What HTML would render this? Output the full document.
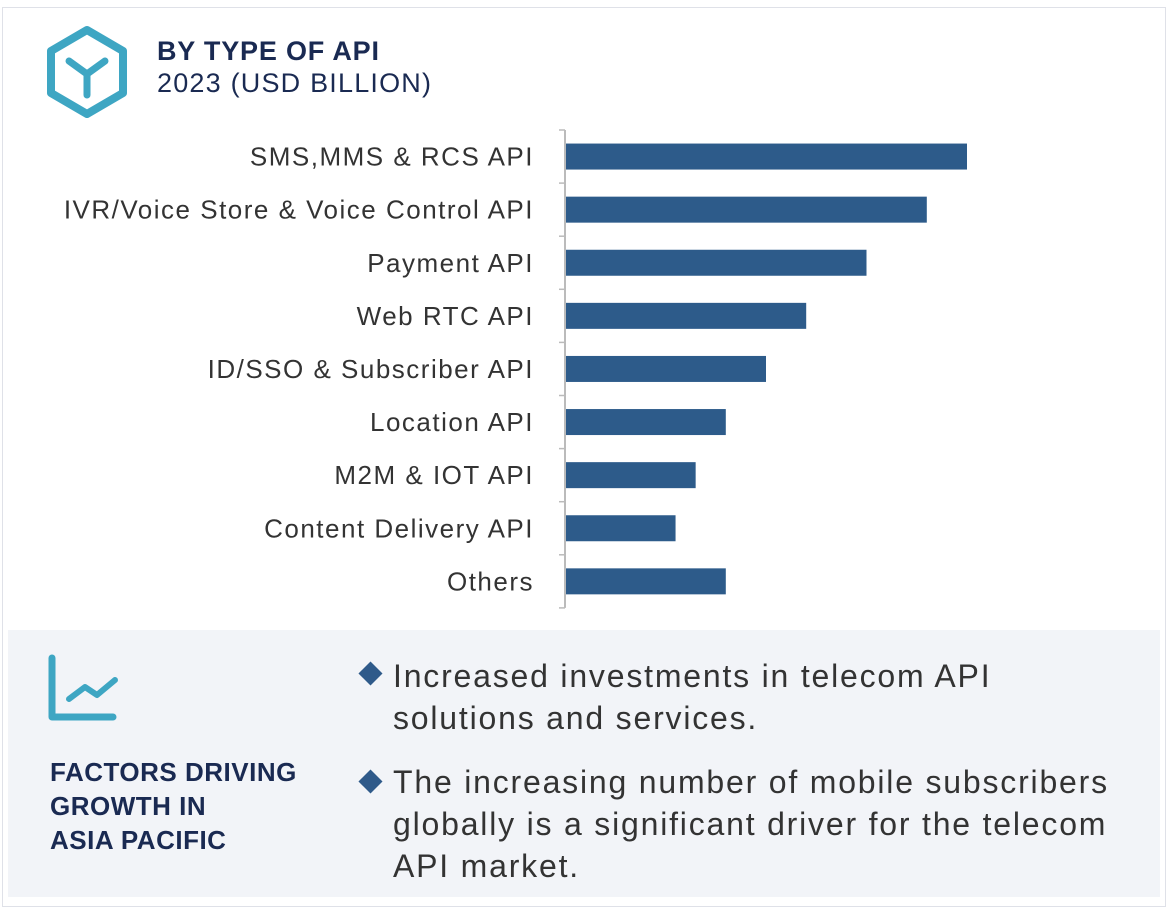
<!DOCTYPE html>
<html><head><meta charset="utf-8"><style>
body{margin:0;width:1170px;height:915px;background:#fff;font-family:"Liberation Sans",sans-serif;overflow:hidden;position:relative}
.t{position:absolute;white-space:nowrap}
</style></head><body>
<div style="position:absolute;left:2px;top:7px;width:1164px;height:900px;border:1px solid #dfe1e8;box-sizing:border-box"></div>
<svg style="position:absolute;left:40px;top:25px" width="95" height="95" viewBox="0 0 95 95">
<polygon points="47,5 83,26 83,68 47,89 11,68 11,26" fill="none" stroke="#3ea6c3" stroke-width="8" stroke-linejoin="round"/>
<path d="M29,36 L47,49 L65,36 M47,49 L47,70" fill="none" stroke="#3ea6c3" stroke-width="7" stroke-linecap="round"/>
</svg>
<div class="t" style="left:157px;top:36px;font-size:27px;font-weight:bold;color:#1a2a52;letter-spacing:0.8px">BY TYPE OF API</div>
<div class="t" style="left:157px;top:68px;font-size:27px;color:#1a2a52;letter-spacing:1.2px">2023 (USD BILLION)</div>
<svg id="chart" style="position:absolute;left:0;top:0" width="1170" height="620"></svg>
<div style="position:absolute;left:8px;top:630px;width:1152px;height:267px;background:#f2f4f8"></div>
<svg style="position:absolute;left:45px;top:652px" width="80" height="75">
<path d="M7,6 L7,65 L68,65" fill="none" stroke="#3ea6c3" stroke-width="7" stroke-linecap="round" stroke-linejoin="round"/>
<path d="M24,47 L40,35 L52,43 L70,28" fill="none" stroke="#3ea6c3" stroke-width="6" stroke-linecap="round" stroke-linejoin="round"/>
</svg>
<div class="t" style="left:50px;top:755px;font-size:26px;font-weight:bold;color:#1a2a52;line-height:34px;letter-spacing:0.5px">FACTORS DRIVING<br>GROWTH IN<br>ASIA PACIFIC</div>
<div class="t" style="left:362px;top:665px;width:17px;height:17px;background:#2f5a8a;transform:rotate(45deg)"></div>
<div class="t" style="left:393px;top:655px;font-size:32px;color:#333;line-height:42px;letter-spacing:1.8px">Increased investments in telecom API<br>solutions and services.</div>
<div class="t" style="left:362px;top:773px;width:17px;height:17px;background:#2f5a8a;transform:rotate(45deg)"></div>
<div class="t" style="left:393px;top:761px;font-size:32px;color:#333;line-height:42px;letter-spacing:1.8px">The increasing number of mobile subscribers<br>globally is a significant driver for the telecom<br>API market.</div>
<script>
const categories=["SMS,MMS & RCS API","IVR/Voice Store & Voice Control API","Payment API","Web RTC API","ID/SSO & Subscriber API","Location API","M2M & IOT API","Content Delivery API","Others"];
const values=[10,9,7.5,6,5,4,3.25,2.75,4];
const svg=document.getElementById('chart');
const NS='http://www.w3.org/2000/svg';
const x0=565,pxPerUnit=40.2,top0=130,band=53.1,barH=26;
const xS=v=>x0+v*pxPerUnit;
const yS=i=>top0+i*band;
function mk(t,a){const e=document.createElementNS(NS,t);for(const k in a)e.setAttribute(k,a[k]);svg.appendChild(e);return e;}
categories.forEach((c,i)=>{
  const cy=yS(i)+band/2;
  const r=mk('rect',{x:x0+1,y:cy-barH/2,width:xS(values[i])-x0-1,height:barH,fill:'#2d5b8a'});
  
  
  const t=mk('text',{x:534,y:cy+9,'text-anchor':'end','font-size':26,fill:'#333','font-family':'Liberation Sans, sans-serif','letter-spacing':'1.5'});
  t.textContent=c;
  
  
});
for(let i=0;i<=categories.length;i++){
  const tk=mk('line',{x1:x0-6,x2:x0,y1:yS(i),y2:yS(i),stroke:'#bbb','stroke-width':1.5});
  
  
}
const ax=mk('line',{x1:x0,x2:x0,y1:yS(0),y2:yS(categories.length),stroke:'#bbb','stroke-width':2});


</script>
</body></html>
